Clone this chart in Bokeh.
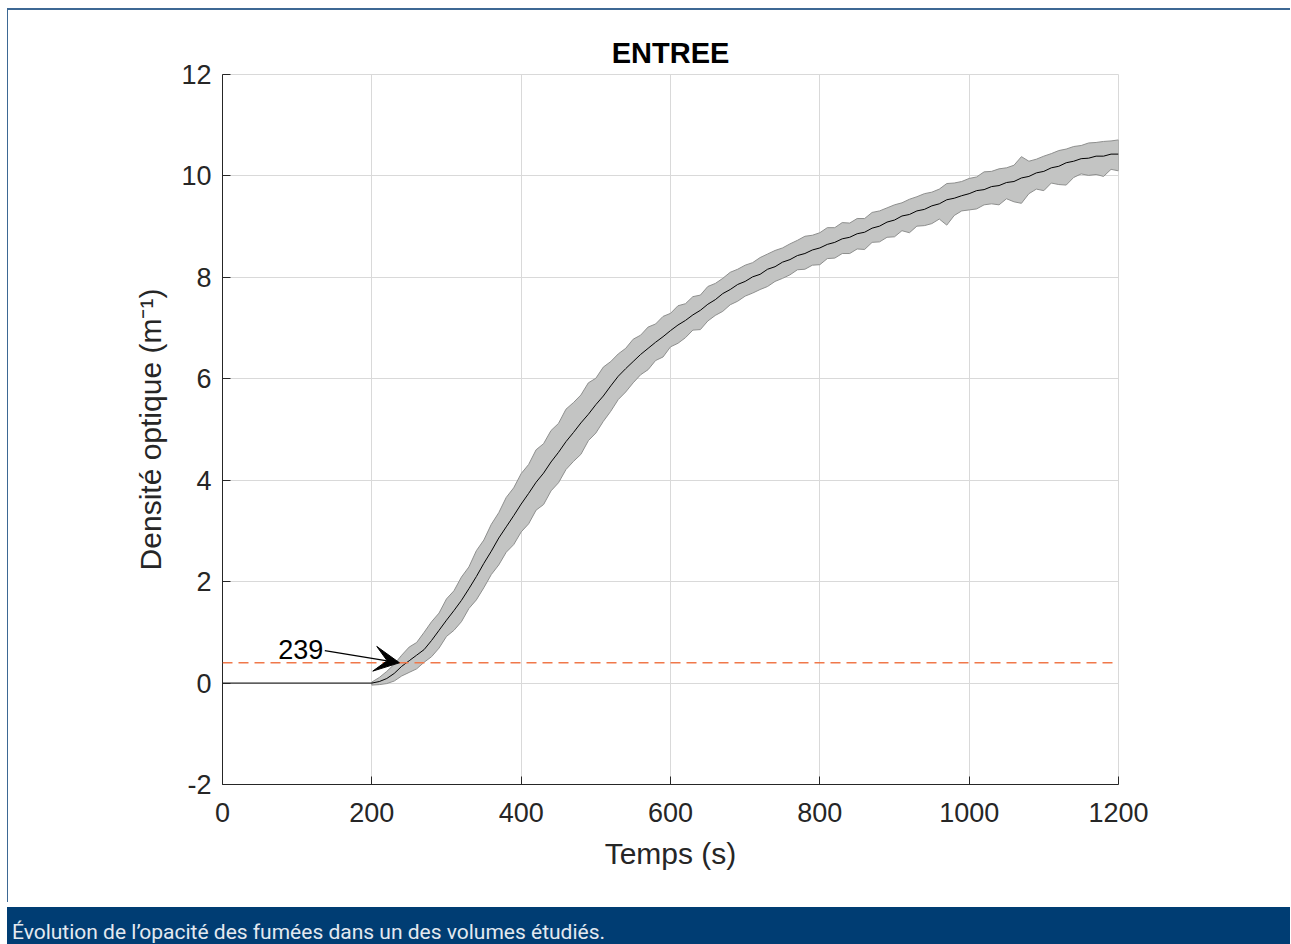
import numpy as np
from bokeh.plotting import figure
from bokeh.models import Span, Arrow, VeeHead, Label, FixedTicker, Range1d, Div
from bokeh.layouts import column
from bokeh.embed import file_html
from bokeh.resources import INLINE

# ---------------- data ----------------
t = list(range(200, 1201, 10))
mean = [0.00, 0.03, 0.09, 0.19, 0.33, 0.44, 0.55, 0.66, 0.84, 1.04,
        1.24, 1.43, 1.63, 1.86, 2.10, 2.36, 2.60, 2.86, 3.08, 3.30,
        3.53, 3.74, 3.96, 4.14, 4.36, 4.55, 4.76, 4.94, 5.13, 5.30,
        5.49, 5.66, 5.86, 6.05, 6.20, 6.34, 6.48, 6.60, 6.72, 6.83,
        6.95, 7.06, 7.15, 7.26, 7.35, 7.47, 7.56, 7.68, 7.76, 7.86,
        7.92, 8.01, 8.06, 8.16, 8.21, 8.30, 8.35, 8.43, 8.47, 8.54,
        8.58, 8.65, 8.69, 8.76, 8.79, 8.86, 8.89, 8.97, 9.01, 9.09,
        9.13, 9.21, 9.24, 9.31, 9.34, 9.41, 9.45, 9.53, 9.56, 9.61,
        9.65, 9.71, 9.73, 9.79, 9.81, 9.87, 9.89, 9.96, 9.99, 10.06,
        10.09, 10.16, 10.19, 10.26, 10.29, 10.34, 10.35, 10.39, 10.39, 10.43,
        10.43]
spread_up = [0.02, 0.08, 0.14, 0.18, 0.22, 0.27, 0.25, 0.34, 0.37, 0.34,
             0.42, 0.39, 0.46, 0.43, 0.51, 0.46, 0.53, 0.50, 0.58, 0.55,
             0.60, 0.57, 0.64, 0.58, 0.62, 0.57, 0.64, 0.59, 0.55, 0.62,
             0.52, 0.57, 0.48, 0.44, 0.40, 0.44, 0.38, 0.42, 0.36, 0.40,
             0.34, 0.38, 0.33, 0.36, 0.30, 0.35, 0.32, 0.30, 0.34, 0.30,
             0.32, 0.28, 0.33, 0.30, 0.32, 0.28, 0.31, 0.30, 0.34, 0.29,
             0.30, 0.33, 0.29, 0.32, 0.28, 0.30, 0.27, 0.31, 0.30, 0.28,
             0.30, 0.26, 0.30, 0.28, 0.31, 0.27, 0.29, 0.32, 0.30, 0.28,
             0.30, 0.27, 0.35, 0.30, 0.33, 0.29, 0.32, 0.42, 0.30, 0.27,
             0.30, 0.28, 0.31, 0.27, 0.29, 0.26, 0.30, 0.27, 0.29, 0.26,
             0.28]
spread_down = [0.04, 0.06, 0.10, 0.15, 0.19, 0.23, 0.27, 0.25, 0.32, 0.35,
               0.32, 0.39, 0.42, 0.39, 0.46, 0.48, 0.46, 0.53, 0.50, 0.57,
               0.55, 0.60, 0.55, 0.62, 0.57, 0.60, 0.55, 0.57, 0.62, 0.52,
               0.56, 0.50, 0.50, 0.46, 0.46, 0.42, 0.40, 0.42, 0.36, 0.40,
               0.32, 0.36, 0.34, 0.30, 0.38, 0.33, 0.31, 0.35, 0.30, 0.33,
               0.29, 0.32, 0.30, 0.34, 0.29, 0.32, 0.30, 0.28, 0.31, 0.30,
               0.33, 0.28, 0.31, 0.29, 0.32, 0.30, 0.34, 0.28, 0.31, 0.30,
               0.33, 0.29, 0.36, 0.30, 0.32, 0.35, 0.30, 0.50, 0.34, 0.30,
               0.32, 0.36, 0.30, 0.34, 0.38, 0.32, 0.40, 0.50, 0.34, 0.32,
               0.38, 0.30, 0.36, 0.44, 0.32, 0.30, 0.34, 0.36, 0.40, 0.30,
               0.33]
pre_t = [0, 200]
pre_y = [0.0, 0.0]
threshold = 0.4
t_cross = 239
x_ticks = [0, 200, 400, 600, 800, 1000, 1200]
y_ticks = [-2, 0, 2, 4, 6, 8, 10, 12]
title_text = "ENTREE"
x_label = "Temps (s)"
y_label = "Densité optique (m⁻¹)"
caption = "Évolution de l’opacité des fumées dans un des volumes étudiés."

# ---------------- derived ----------------
tt = np.array(t, dtype=float)
mm = np.array(mean)
upper = mm + np.array(spread_up)
lower = mm - np.array(spread_down)

FONT = "Liberation Sans"
AX = "#262626"
BLUE = "#3d6894"
NAVY = "#003d73"

p = figure(width=1283, height=894,
           x_range=Range1d(0, 1200), y_range=Range1d(-2, 12),
           toolbar_location=None, output_backend="svg",
           min_border_left=214, min_border_right=173,
           min_border_top=64, min_border_bottom=120,
           background_fill_color="white", border_fill_color="white",
           outline_line_color="#d9d9d9",
           styles={"margin-left": "7px", "margin-top": "8px",
                   "border-top": "2px solid " + BLUE,
                   "border-left": "1px solid " + BLUE})

p.title.text = title_text
p.title.align = "center"
p.title.text_font = FONT
p.title.text_font_size = "29px"
p.title.text_font_style = "bold"
p.title.text_color = "#000000"
p.title.offset = 0
p.title.standoff = 11

for ax, ticks in ((p.xaxis[0], x_ticks), (p.yaxis[0], y_ticks)):
    ax.ticker = FixedTicker(ticks=ticks)
    ax.axis_line_color = AX
    ax.axis_line_width = 1
    ax.major_tick_line_color = AX
    ax.major_tick_in = 8
    ax.major_tick_out = 0
    ax.minor_tick_line_color = None
    ax.major_label_text_font = FONT
    ax.major_label_text_font_size = "27px"
    ax.major_label_text_color = AX
    ax.axis_label_text_font = FONT
    ax.axis_label_text_font_size = "30px"
    ax.axis_label_text_font_style = "normal"
    ax.axis_label_text_color = AX

p.yaxis.major_label_overrides = {-2: "-2"}
p.xaxis.axis_label = x_label
p.yaxis.axis_label = y_label
p.xaxis.major_label_standoff = 18
p.yaxis.major_label_standoff = 11
p.xaxis.axis_label_standoff = 12
p.yaxis.axis_label_standoff = 11

p.xgrid.ticker = FixedTicker(ticks=x_ticks)
p.ygrid.ticker = FixedTicker(ticks=y_ticks)
p.grid.grid_line_color = "#d9d9d9"
p.grid.grid_line_width = 1

# band
xs = np.concatenate([tt, tt[::-1]])
ys = np.concatenate([upper, lower[::-1]])
p.patch(xs, ys, fill_color="#c3c4c3", line_color="#8e8f8e", line_width=1)

# mean lines
p.line(pre_t, pre_y, line_color="#000000", line_width=1)
p.line(tt, mm, line_color="#000000", line_width=1)

# threshold
p.add_layout(Span(location=threshold, dimension="width",
                  line_color="#f0784a", line_width=1.5, line_dash="10 6"))

# annotation arrow + label
tail_x = t_cross - 102
tail_y = threshold + 0.24
p.add_layout(Arrow(end=VeeHead(size=25, fill_color="black", line_color="black"),
                   x_start=tail_x, y_start=tail_y, x_end=t_cross - 2, y_end=threshold,
                   line_color="black", line_width=1.2))
p.add_layout(Label(x=tail_x - 2, y=tail_y + 0.02, text=str(t_cross),
                   text_align="right", text_baseline="middle",
                   text_font=FONT, text_font_size="27px",
                   text_color="#000000"))

# caption bar
cap = Div(text=('<div style="padding:15px 0 0 5px; font-family:Roboto; '
                'font-size:21px; line-height:21px; color:#e3e9f0; '
                'white-space:nowrap;">' + caption + '</div>'),
          width=1283, height=39,
          styles={"margin-left": "7px", "background-color": NAVY,
                  "overflow": "hidden"})

layout = column(p, cap, spacing=0)
open("out.html", "w").write(file_html(layout, INLINE))
